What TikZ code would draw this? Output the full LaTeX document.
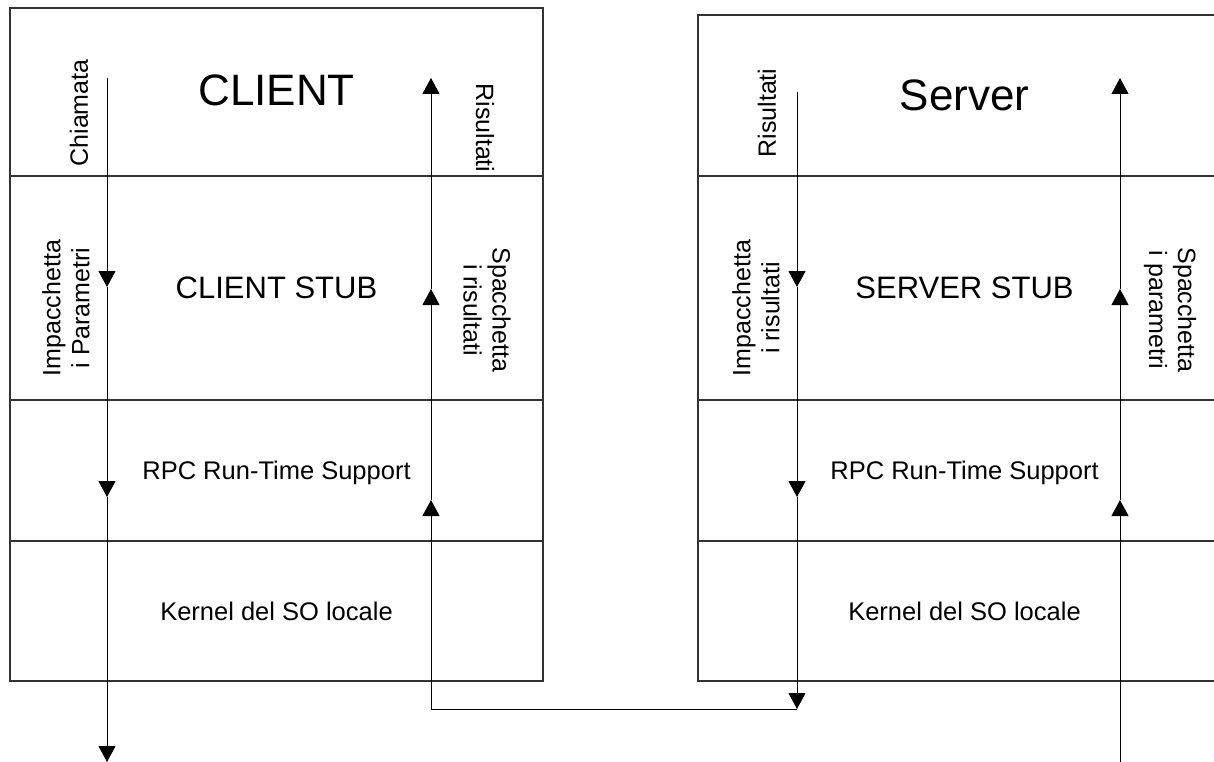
\documentclass[tikz,border=0pt]{standalone}
\usepackage{fontspec}
\setmainfont{Liberation Sans}
\usetikzlibrary{arrows.meta}
\begin{document}
\begin{tikzpicture}[x=1pt,y=-1pt,
  layer/.style={draw=black!80, line width=1.1pt, rectangle, inner sep=0pt,
                minimum width=533pt, text depth=0pt},
  flow/.style={draw=black, line width=0.9pt, line join=miter,
               -{Triangle[length=16pt,width=17pt]}},
  side/.style={font=\fontsize{25}{29}\selectfont, align=center, inner sep=0pt},
  big/.style={font=\fontsize{44}{50}\selectfont},
  mid/.style={font=\fontsize{31}{35}\selectfont},
  small/.style={font=\fontsize{25.5}{29}\selectfont}]
\useasboundingbox (0,0) rectangle (1214,762);
\clip (0,0) rectangle (1214,762);

% client protocol stack
\node[layer, big,   minimum height=168pt] (cl-app)  at (276.5,92)    {\raisebox{3pt}{CLIENT}};
\node[layer, mid,   minimum height=224pt] (cl-stub) at (276.5,288)   {CLIENT STUB};
\node[layer, small, minimum height=141pt] (cl-rpc)  at (276.5,470.5) {RPC Run-Time Support};
\node[layer, small, minimum height=140pt] (cl-kern) at (276.5,611)   {Kernel del SO locale};

% server protocol stack
\node[layer, big,   minimum height=161pt] (sv-app)  at (964.5,95.5)  {Server};
\node[layer, mid,   minimum height=224pt] (sv-stub) at (964.5,288)   {SERVER STUB};
\node[layer, small, minimum height=141pt] (sv-rpc)  at (964.5,470.5) {RPC Run-Time Support};
\node[layer, small, minimum height=140pt] (sv-kern) at (964.5,611)   {Kernel del SO locale};

% side labels
\node[side, rotate=90]  (lb-call)  at (79,113)  {Chiamata};
\node[side, rotate=-90] (lb-cres)  at (485,128) {Risultati};
\node[side, rotate=90]  (lb-pack)  at (66,308)  {Impacchetta\\i Parametri};
\node[side, rotate=-90] (lb-unres) at (487,310) {Spacchetta\\i risultati};
\node[side, rotate=90]  (lb-sres)  at (767,113) {Risultati};
\node[side, rotate=90]  (lb-packr) at (756,308) {Impacchetta\\i risultati};
\node[side, rotate=-90] (lb-unpar) at (1170,310) {Spacchetta\\i parametri};

% flow coordinates
\coordinate (cA0) at (107,78);
\coordinate (cA1) at (107,287);
\coordinate (cA2) at (107,497);
\coordinate (cA3) at (107,762);
\coordinate (cB0) at (431,709);
\coordinate (cB1) at (431,500);
\coordinate (cB2) at (431,289);
\coordinate (cB3) at (431,78);
\coordinate (sA0) at (797,92);
\coordinate (sA1) at (797,287);
\coordinate (sA2) at (797,497);
\coordinate (sA3) at (797,709);
\coordinate (sB0) at (1120,762);
\coordinate (sB1) at (1120,500);
\coordinate (sB2) at (1120,289);
\coordinate (sB3) at (1120,78);

% client: call going down
\draw[flow] (cA0) -- (cA1);
\draw[flow] (cA1) -- (cA2);
\draw[flow] (cA2) -- (cA3);
% client: results coming up
\draw[flow] (sA3) -- (cB0) -- (cB1);
\draw[flow] (cB1) -- (cB2);
\draw[flow] (cB2) -- (cB3);
% server: results going down
\draw[flow] (sA0) -- (sA1);
\draw[flow] (sA1) -- (sA2);
\draw[flow] (sA2) -- (sA3);
% server: parameters coming up
\draw[flow] (sB0) -- (sB1);
\draw[flow] (sB1) -- (sB2);
\draw[flow] (sB2) -- (sB3);
\end{tikzpicture}
\end{document}
